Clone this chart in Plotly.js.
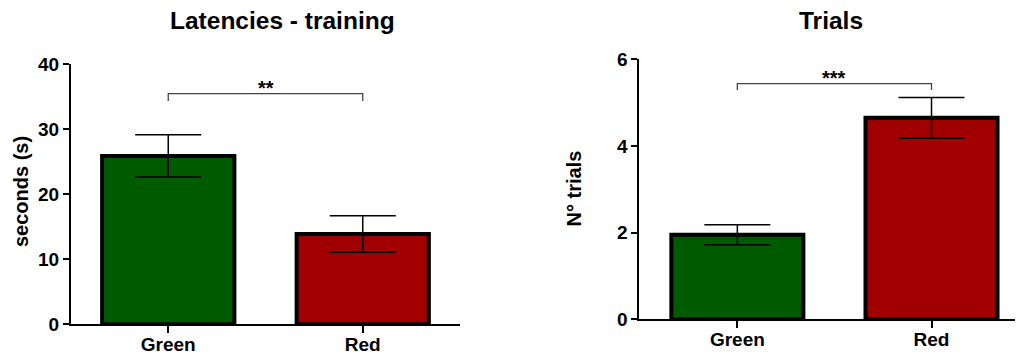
<!DOCTYPE html>
<html>
<head>
<meta charset="utf-8">
<script src="https://cdn.plot.ly/plotly-3.0.1.min.js"></script>
<style>html,body{margin:0;padding:0;background:#fff;}#chart{width:1019px;height:356px;}</style>
</head>
<body>
<div id="chart"></div>
<script>
// ---- data ----
const categories = ['Green', 'Red'];
const latencyMeans = [25.9, 13.9];
const latencyErr = [3.25, 2.8];
const trialMeans = [1.95, 4.65];
const trialErr = [0.23, 0.47];
const barColors = ['#005a00', '#a00000'];
const latencyTicks = [0, 10, 20, 30, 40];
const trialTicks = [0, 2, 4, 6];
const sigLabels = ['**', '***'];
const sigLevels = [35.5, 5.44];
const sigDrops = [1.15, 0.15];
const panelTitles = ['Latencies - training', 'Trials'];
const yTitles = ['seconds (s)', 'N° trials'];

const FONT = 'Liberation Sans, Arial, Helvetica, sans-serif';

function barTrace(means, errs, xa, ya) {
  return {
    type: 'bar', x: categories, y: means, xaxis: xa, yaxis: ya,
    width: 0.68,
    marker: {color: barColors, line: {color: '#000', width: 4}},
    error_y: {type: 'data', array: errs, visible: true, color: '#000', thickness: 1.5, width: 33},
    hoverinfo: 'skip'
  };
}
function bracketTrace(level, drop, xa, ya) {
  return {
    type: 'scatter', mode: 'lines', xaxis: xa, yaxis: ya,
    x: [categories[0], categories[0], categories[1], categories[1]],
    y: [level - drop, level, level, level - drop],
    line: {color: '#444', width: 1.3}, hoverinfo: 'skip'
  };
}

const data = [
  barTrace(latencyMeans, latencyErr, 'x', 'y'),
  bracketTrace(sigLevels[0], sigDrops[0], 'x', 'y'),
  barTrace(trialMeans, trialErr, 'x2', 'y2'),
  bracketTrace(sigLevels[1], sigDrops[1], 'x2', 'y2')
];

const xCommon = {
  type: 'category', showgrid: false, zeroline: false,
  showline: true, linecolor: '#000', linewidth: 2,
  ticks: 'outside', ticklen: 7, tickwidth: 2, tickcolor: '#000',
  ticklabelstandoff: -5,
  tickfont: {family: FONT, size: 19, color: '#000', weight: 'bold'},
  fixedrange: true
};
const yCommon = {
  showgrid: false, zeroline: false,
  showline: true, linecolor: '#000', linewidth: 2,
  ticks: 'outside', ticklen: 6, tickwidth: 2, tickcolor: '#000',
  tickfont: {family: FONT, size: 19, color: '#000', weight: 'bold'},
  fixedrange: true
};

const layout = {
  width: 1019, height: 356,
  margin: {l: 0, r: 0, t: 0, b: 0},
  paper_bgcolor: '#fff', plot_bgcolor: '#fff',
  showlegend: false, hovermode: false,
  bargap: 0,
  xaxis: Object.assign({}, xCommon, {domain: [71/1019, 460/1019], range: [-0.5, 1.5], anchor: 'y'}),
  yaxis: Object.assign({}, yCommon, {domain: [31.7/356, 291.7/356], range: [0, 40], tickvals: latencyTicks, anchor: 'x'}),
  xaxis2: Object.assign({}, xCommon, {domain: [639.3/1019, 1015/1019], range: [-0.505, 1.43], anchor: 'y2'}),
  yaxis2: Object.assign({}, yCommon, {domain: [36.7/356, 296.7/356], range: [0, 6], tickvals: trialTicks, anchor: 'x2'}),
  annotations: [
    {text: panelTitles[0], xref: 'paper', yref: 'paper', x: 282/1019, y: (356-21)/356, xanchor: 'center', yanchor: 'middle', showarrow: false,
     font: {family: FONT, size: 24.5, color: '#000', weight: 'bold'}},
    {text: panelTitles[1], xref: 'paper', yref: 'paper', x: 831/1019, y: (356-20)/356, xanchor: 'center', yanchor: 'middle', showarrow: false,
     font: {family: FONT, size: 24.5, color: '#000', weight: 'bold'}},
    {text: yTitles[0], xref: 'paper', yref: 'paper', x: 21/1019, y: (356-192)/356, xanchor: 'center', yanchor: 'middle', textangle: -90, showarrow: false,
     font: {family: FONT, size: 20, color: '#000', weight: 'bold'}},
    {text: yTitles[1], xref: 'paper', yref: 'paper', x: 573.5/1019, y: (356-189)/356, xanchor: 'center', yanchor: 'middle', textangle: -90, showarrow: false,
     font: {family: FONT, size: 20, color: '#000', weight: 'bold'}},
    {text: sigLabels[0], xref: 'x', yref: 'y', x: 0.5, y: sigLevels[0], xanchor: 'center', yanchor: 'bottom', yshift: -7, showarrow: false,
     font: {family: FONT, size: 20, color: '#000', weight: 'bold'}},
    {text: sigLabels[1], xref: 'x2', yref: 'y2', x: 0.5, y: sigLevels[1], xanchor: 'center', yanchor: 'bottom', yshift: -7, showarrow: false,
     font: {family: FONT, size: 20, color: '#000', weight: 'bold'}}
  ]
};

Plotly.newPlot('chart', data, layout, {displayModeBar: false, staticPlot: true});
</script>
</body>
</html>
